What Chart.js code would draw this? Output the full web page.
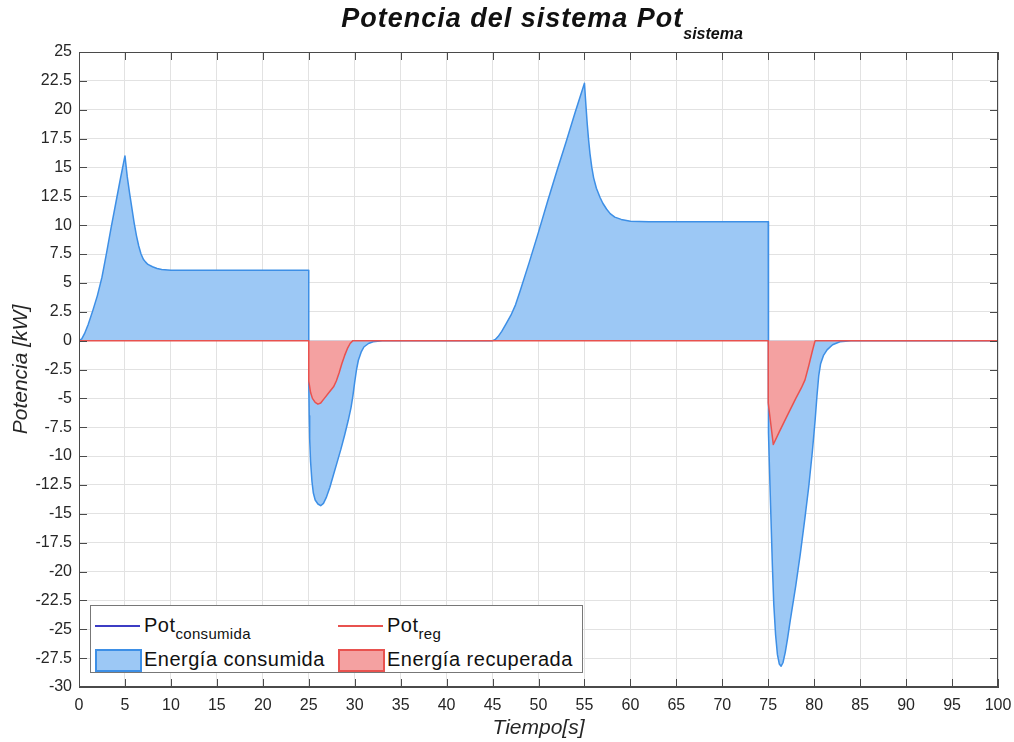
<!DOCTYPE html>
<html>
<head>
<meta charset="utf-8">
<script src="https://cdn.jsdelivr.net/npm/chart.js@4"></script>
<style>
  body { margin: 0; background: #fff; }
  #wrap { position: relative; width: 1014px; height: 742px; overflow: hidden; font-family: "Liberation Sans", Arial, sans-serif; color: #111; }
  #titulo { position: absolute; left: 0; top: 3px; width: 1084px; text-align: center; font-weight: bold; font-style: italic; font-size: 27px; line-height: 30px; letter-spacing: 1px; white-space: nowrap; }
  #titulo sub { font-size: 16px; letter-spacing: 0; vertical-align: -12px; }
  #leyenda { position: absolute; left: 90px; top: 605px; width: 491px; height: 66px; border: 1px solid #777; background: #fff; font-size: 20px; letter-spacing: 0.5px; }
  .item { position: absolute; height: 26px; line-height: 26px; }
  .item sub { font-size: 15px; letter-spacing: 0.3px; vertical-align: -7px; }
  .linea { position: absolute; left: 0; top: 13px; width: 45px; height: 0; border-top: 2px solid; }
  .caja { position: absolute; left: 0; top: 3px; width: 43px; height: 19px; border: 2px solid; }
  .txt { position: absolute; left: 49px; top: 0; white-space: nowrap; }
</style>
</head>
<body>
<div id="wrap">
  <canvas id="grafico" width="1014" height="742"></canvas>
  <div id="titulo">Potencia del sistema Pot<sub>sistema</sub></div>
  <div id="leyenda">
    <div class="item" style="left:4px; top:6px;"><div class="linea" style="border-color:#3c3cc4"></div><div class="txt">Pot<sub>consumida</sub></div></div>
    <div class="item" style="left:247px; top:6px;"><div class="linea" style="border-color:#e8524f"></div><div class="txt">Pot<sub>reg</sub></div></div>
    <div class="item" style="left:4px; top:40px;"><div class="caja" style="background:#9cc8f5; border-color:#3d8fe6"></div><div class="txt">Energía consumida</div></div>
    <div class="item" style="left:247px; top:40px;"><div class="caja" style="background:#f4a1a1; border-color:#e8524f"></div><div class="txt">Energía recuperada</div></div>
  </div>
</div>
<script>
// tiempo [s] y potencia consumida [kW]
const tiempoConsumo = [
  0, 0.3, 0.6, 1, 1.5, 2, 2.5, 3, 3.5, 4, 4.5, 5,
  5.25, 5.5, 5.75, 6, 6.25, 6.5, 6.75, 7, 7.25, 7.5, 8, 8.5, 9, 10, 25,
  25, 25.05, 25.1, 25.2, 25.35, 25.5, 25.7, 26, 26.3, 26.6, 26.9, 27.3, 27.7, 28.1, 28.5, 28.9, 29.3, 29.6, 29.8, 30, 30.2, 30.4, 30.7, 31, 31.5, 32, 33, 34,
  45, 45.3, 45.6, 46, 46.5, 47, 47.5, 48, 49, 50, 51, 52, 53, 54, 55,
  55.15, 55.3, 55.45, 55.6, 55.8, 56, 56.3, 56.7, 57, 57.4, 57.8, 58.3, 59, 60, 62, 75,
  75, 75.05, 75.15, 75.3, 75.45, 75.6, 75.8, 76, 76.2, 76.4, 76.6, 76.85, 77.1, 77.4, 78, 78.5, 79, 79.4, 79.8, 80.1, 80.3, 80.5, 80.7, 81, 81.4, 82, 82.8, 84,
  100
];
const potConsumida = [
  0, 0.15, 0.6, 1.4, 2.6, 3.9, 5.5, 7.6, 9.8, 11.9, 14.0, 16.0,
  14.2, 12.8, 11.5, 10.2, 9.1, 8.2, 7.5, 7.05, 6.8, 6.6, 6.4, 6.25, 6.17, 6.1, 6.1,
  -3.5, -6.5, -8.5, -10.5, -12.2, -13.2, -13.8, -14.15, -14.3, -14.1, -13.6, -12.7, -11.6, -10.5, -9.4, -8.2, -6.9, -5.8, -4.8, -3.6, -2.5, -1.7, -1.0, -0.55, -0.25, -0.1, -0.02, 0,
  0, 0.1, 0.35, 0.8, 1.5, 2.2, 3.1, 4.3, 6.8, 9.4, 12.1, 14.7, 17.2, 19.8, 22.3,
  20.5, 18.8, 17.4, 16.2, 15.0, 14.1, 13.2, 12.4, 11.9, 11.4, 11.0, 10.7, 10.5, 10.35, 10.3, 10.3,
  -5, -8, -11.5, -15.5, -19.5, -22.8, -25.5, -27.2, -28.0, -28.2, -27.9, -27.0, -25.8, -24.2, -21.2, -18.4, -15.3, -12.7, -9.6, -6.9, -4.8, -3.0, -2.0, -1.3, -0.8, -0.35, -0.1, 0,
  0
];

// tiempo [s] y potencia regenerada [kW]
const tiempoReg = [
  0, 25,
  25, 25.2, 25.4, 25.7, 26, 26.3, 26.7, 27.2, 27.7, 28, 28.3, 28.6, 28.9, 29.2, 29.5, 29.8,
  75,
  75, 75.55, 76.2, 77, 78, 78.6, 79, 79.4, 79.8, 80.1,
  100
];
const potReg = [
  0, 0,
  -3.5, -4.5, -5.0, -5.35, -5.5, -5.4, -5.0, -4.5, -4.0, -3.5, -2.8, -2.0, -1.3, -0.7, -0.25, 0,
  0,
  -5.4, -9.0, -7.9, -6.6, -5.0, -4.1, -3.4, -2.2, -0.9, 0,
  0
];

const aPuntos = (xs, ys) => xs.map((x, i) => ({ x: x, y: ys[i] }));

// caja y marcas interiores al estilo MATLAB
const cajaEjes = {
  id: 'cajaEjes',
  afterDraw(chart) {
    const { ctx, chartArea: a, scales } = chart;
    ctx.save();
    ctx.strokeStyle = '#4a4a4a';
    ctx.lineWidth = 1;
    ctx.strokeRect(a.left + 0.5, a.top + 0.5, a.right - a.left - 1, a.bottom - a.top - 1);
    ctx.beginPath();
    scales.x.ticks.forEach(t => {
      const px = Math.round(scales.x.getPixelForValue(t.value)) + 0.5;
      ctx.moveTo(px, a.bottom); ctx.lineTo(px, a.bottom - 8);
      ctx.moveTo(px, a.top); ctx.lineTo(px, a.top + 8);
    });
    scales.y.ticks.forEach(t => {
      const py = Math.round(scales.y.getPixelForValue(t.value)) + 0.5;
      ctx.moveTo(a.left, py); ctx.lineTo(a.left + 8, py);
      ctx.moveTo(a.right, py); ctx.lineTo(a.right - 8, py);
    });
    ctx.stroke();
    ctx.restore();
  }
};

const fuente = 'Liberation Sans';
const ctx = document.getElementById('grafico').getContext('2d');
new Chart(ctx, {
  type: 'line',
  data: {
    datasets: [
      {
        label: 'Pot_reg',
        data: aPuntos(tiempoReg, potReg),
        borderColor: '#e8524f',
        backgroundColor: '#f4a1a1',
        fill: 'origin',
        borderWidth: 1.5,
        borderJoinStyle: 'round',
        pointRadius: 0,
        tension: 0,
        order: 0
      },
      {
        label: 'Pot_consumida',
        data: aPuntos(tiempoConsumo, potConsumida),
        borderColor: '#3d8fe6',
        backgroundColor: '#9cc8f5',
        fill: 'origin',
        borderWidth: 1.5,
        borderJoinStyle: 'round',
        pointRadius: 0,
        tension: 0,
        order: 1
      }
    ]
  },
  options: {
    responsive: false,
    animation: false,
    layout: { padding: { top: 52, right: 16, left: 0, bottom: 0 } },
    plugins: {
      legend: { display: false },
      tooltip: { enabled: false }
    },
    scales: {
      x: {
        type: 'linear',
        min: 0,
        max: 100,
        afterFit: s => { s.height = 55; s.paddingLeft = 0; s.paddingRight = 0; },
        ticks: { stepSize: 5, padding: 9, color: '#262626', font: { family: fuente, size: 16 } },
        grid: { color: '#e2e2e2', drawTicks: false },
        border: { color: '#4a4a4a' },
        title: { display: true, text: 'Tiempo[s]', color: '#262626', padding: { top: 0, bottom: 1 }, font: { family: fuente, size: 21, style: 'italic' } }
      },
      y: {
        type: 'linear',
        min: -30,
        max: 25,
        afterFit: s => { s.width = 79; s.paddingTop = 0; s.paddingBottom = 0; },
        ticks: {
          stepSize: 2.5,
          padding: 7,
          color: '#262626',
          font: { family: fuente, size: 16 },
          callback: v => String(Math.round(v * 10) / 10)
        },
        grid: { color: '#e2e2e2', drawTicks: false },
        border: { color: '#4a4a4a' },
        title: { display: true, text: 'Potencia [kW]', color: '#262626', padding: { top: 9, bottom: 0 }, font: { family: fuente, size: 21, style: 'italic' } }
      }
    }
  },
  plugins: [cajaEjes]
});
</script>
</body>
</html>
